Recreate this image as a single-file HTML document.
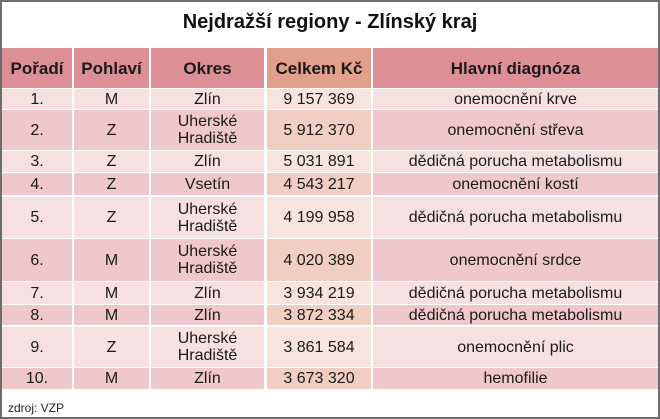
<!DOCTYPE html>
<html><head><meta charset="utf-8"><style>
body{margin:0;background:#fff;}
#w{position:relative;width:656px;height:415px;border:2px solid #6d6d6d;background:#fff;overflow:hidden;font-family:"Liberation Sans",Arial,sans-serif;}
.t{position:absolute;left:0;top:9px;width:656px;text-align:center;font-weight:bold;font-size:20px;color:#111;}
.c{position:absolute;display:flex;align-items:center;justify-content:center;text-align:center;font-size:16px;color:#1a1a1a;line-height:17px;}
.h{font-weight:bold;font-size:17px;}
.s{position:absolute;left:6px;top:399px;font-size:12px;color:#222;}
</style></head><body><div id="w">
<div class="t">Nejdražší regiony - Zlínský kraj</div>
<div id="g"></div>
<div class="s">zdroj: VZP</div>
</div>
<script>
var cols=[[0,70],[72,147],[149,262],[265,369],[371,656]];
var rows=[[46,86],[87,107],[108,148],[149,170],[171,193],[195,236],[237,279],[280,302],[303,323],[325,365],[366,387]];
var data=[["Pořadí","Pohlaví","Okres","Celkem Kč","Hlavní diagnóza"],
["1.","M","Zlín","9 157 369","onemocnění krve"],
["2.","Z","Uherské<br>Hradiště","5 912 370","onemocnění střeva"],
["3.","Z","Zlín","5 031 891","dědičná porucha metabolismu"],
["4.","Z","Vsetín","4 543 217","onemocnění kostí"],
["5.","Z","Uherské<br>Hradiště","4 199 958","dědičná porucha metabolismu"],
["6.","M","Uherské<br>Hradiště","4 020 389","onemocnění srdce"],
["7.","M","Zlín","3 934 219","dědičná porucha metabolismu"],
["8.","M","Zlín","3 872 334","dědičná porucha metabolismu"],
["9.","Z","Uherské<br>Hradiště","3 861 584","onemocnění plic"],
["10.","M","Zlín","3 673 320","hemofilie"]];
var h="";
for(var r=0;r<rows.length;r++)for(var c=0;c<5;c++){
 var bg;
 if(r==0)bg=c==3?"#e0a08c":"#dc9096";
 else if(r%2==1)bg=c==3?"#f7e4dd":"#f6e0e2";
 else bg=c==3?"#f0cfc2":"#efc8cc";
 h+='<div class="c'+(r==0?' h':'')+'" style="left:'+cols[c][0]+'px;width:'+(cols[c][1]-cols[c][0])+'px;top:'+rows[r][0]+'px;height:'+(rows[r][1]-rows[r][0])+'px;background:'+bg+'">'+data[r][c]+'</div>';
}
document.getElementById("g").innerHTML=h;
</script>
</body></html>
